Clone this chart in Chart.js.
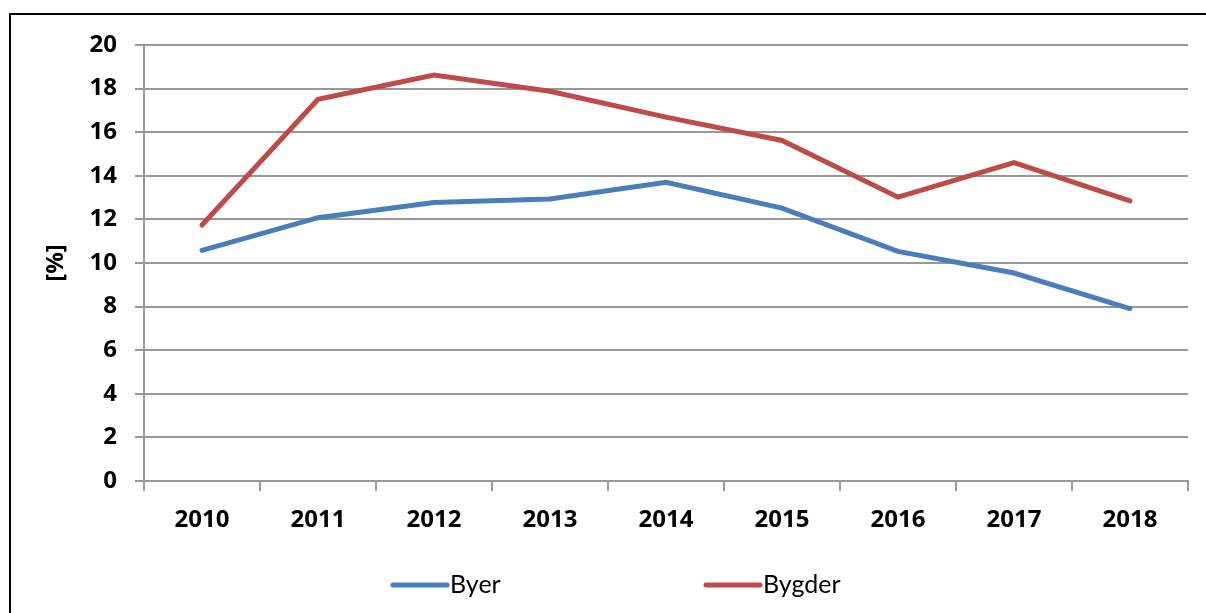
<!DOCTYPE html>
<html>
<head>
<meta charset="utf-8">
<script src="https://cdn.jsdelivr.net/npm/chart.js@4"></script>
<style>
  body { margin: 0; width: 1206px; height: 613px; overflow: hidden; background: #fff; position: relative; }
  #frame { position: absolute; left: 9px; top: 13px; width: 1300px; height: 700px; border: 2px solid #000; }
  #chart { position: absolute; left: 0; top: 0; }
</style>
</head>
<body>
<div id="frame"></div>
<canvas id="chart" width="1206" height="613"></canvas>
<script>
const years = ["2010", "2011", "2012", "2013", "2014", "2015", "2016", "2017", "2018"];
const byer = [10.58, 12.08, 12.77, 12.94, 13.70, 12.52, 10.53, 9.54, 7.91];
const bygder = [11.74, 17.51, 18.62, 17.88, 16.69, 15.62, 13.02, 14.60, 12.85];
const yTicks = [0, 2, 4, 6, 8, 10, 12, 14, 16, 18, 20];

const FONT = "'Open Sans', Lato, sans-serif";
const GRID = "#989898";

// legend drawn by hand so the items sit where the original has them
const legendPlugin = {
  id: "customLegend",
  afterDraw(chart) {
    const ctx = chart.ctx;
    const starts = [393, 706];
    const y = 585;
    ctx.save();
    chart.data.datasets.forEach((ds, i) => {
      const x = starts[i];
      ctx.strokeStyle = ds.borderColor;
      ctx.lineWidth = 5;
      ctx.lineCap = "round";
      ctx.beginPath();
      ctx.moveTo(x, y);
      ctx.lineTo(x + 54, y);
      ctx.stroke();
      ctx.fillStyle = "#000";
      ctx.font = "25px Lato, sans-serif";
      ctx.textBaseline = "middle";
      ctx.fillText(ds.label, x + 57, y);
    });
    ctx.restore();
  }
};

new Chart(document.getElementById("chart"), {
  type: "line",
  data: {
    labels: years,
    datasets: [
      { label: "Byer", data: byer, borderColor: "#4a7ebb", borderWidth: 5, pointRadius: 0, tension: 0, borderCapStyle: "round" },
      { label: "Bygder", data: bygder, borderColor: "#be4b48", borderWidth: 5, pointRadius: 0, tension: 0, borderCapStyle: "round" }
    ]
  },
  options: {
    responsive: false,
    animation: false,
    devicePixelRatio: 1,
    layout: { padding: { top: 45, right: 18, left: 0, bottom: 0 } },
    plugins: { legend: { display: false }, tooltip: { enabled: false } },
    scales: {
      x: {
        offset: true,
        grid: { display: true, offset: true, drawOnChartArea: false, color: GRID, lineWidth: 2, tickLength: 10 },
        border: { color: GRID, width: 2 },
        ticks: { color: "#000", font: { family: FONT, size: 24, weight: "bold" }, padding: 15, maxRotation: 0 },
        afterFit(axis) { axis.height = 132; }
      },
      y: {
        min: 0,
        max: 20,
        afterBuildTicks(axis) { axis.ticks = yTicks.map(v => ({ value: v })); },
        grid: { color: GRID, lineWidth: 2, tickLength: 9 },
        border: { color: GRID, width: 2 },
        ticks: { color: "#000", font: { family: FONT, size: 24, weight: "bold" }, padding: 18 },
        title: { display: true, text: "[%]", color: "#000", font: { family: FONT, size: 24, weight: "bold" }, padding: { top: 42, bottom: 0 } },
        afterFit(axis) { axis.width = 144; }
      }
    }
  },
  plugins: [legendPlugin]
});
</script>
</body>
</html>
